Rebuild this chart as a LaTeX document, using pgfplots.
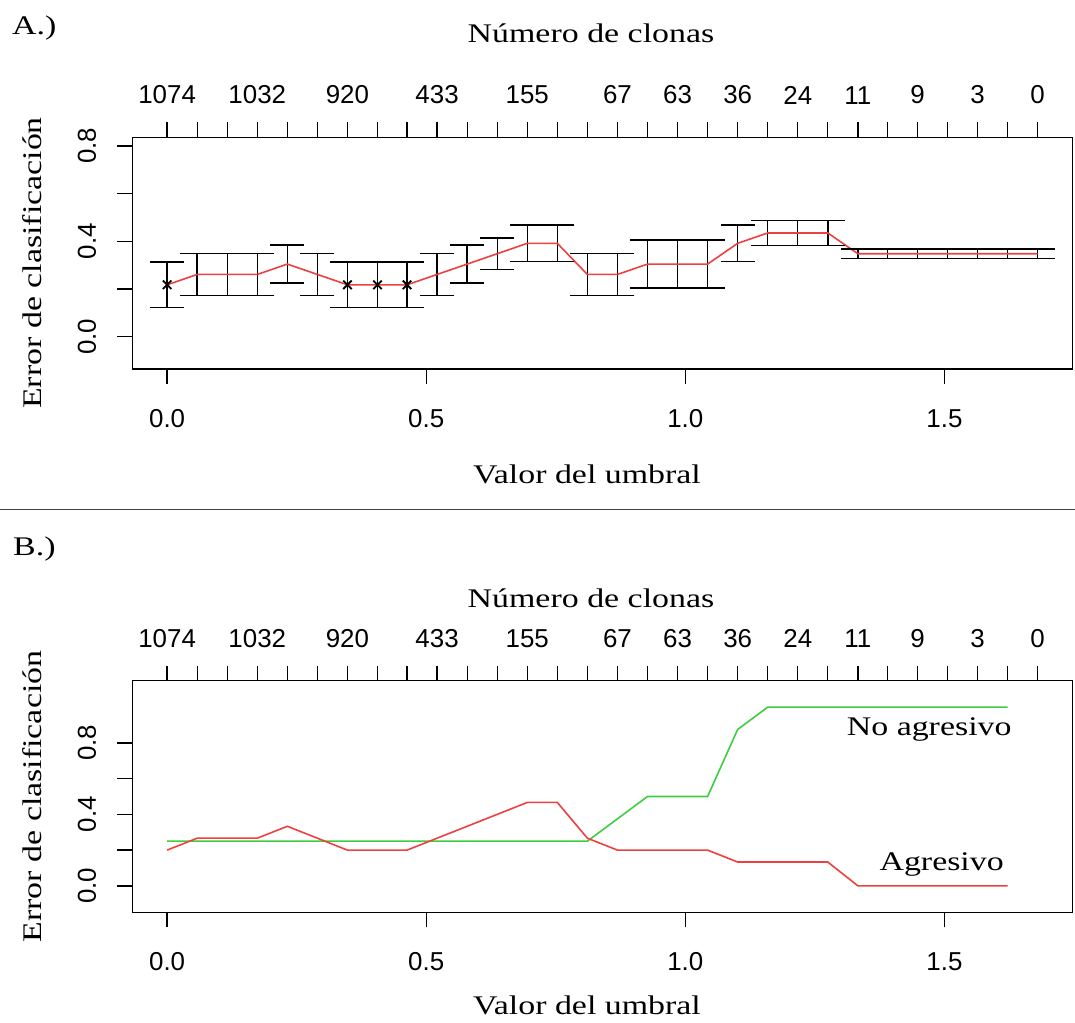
\documentclass[border=0pt]{standalone}
\usepackage{fontspec}
\setmainfont{Liberation Serif}[FakeStretch=1.26]
\newfontfamily\ticksf{Liberation Sans}
\usepackage{pgfplots}
\pgfplotsset{compat=1.18}
\usepackage{pgfplotstable}

\definecolor{errred}{RGB}{238,64,64}
\definecolor{nagreen}{RGB}{64,204,64}

% Panel A: threshold, overall CV error, standard error
\pgfplotstableread{
t e se
0.000 0.2174 0.095
0.058 0.2609 0.089
0.116 0.2609 0.089
0.174 0.2609 0.089
0.232 0.3043 0.080
0.290 0.2609 0.089
0.348 0.2174 0.095
0.406 0.2174 0.095
0.463 0.2174 0.095
0.521 0.2609 0.089
0.579 0.3043 0.080
0.637 0.3478 0.066
0.695 0.3913 0.077
0.753 0.3913 0.077
0.811 0.2609 0.089
0.869 0.2609 0.089
0.927 0.3043 0.101
0.985 0.3043 0.101
1.043 0.3043 0.101
1.101 0.3913 0.077
1.159 0.4348 0.053
1.217 0.4348 0.053
1.275 0.4348 0.053
1.333 0.3478 0.020
1.390 0.3478 0.020
1.448 0.3478 0.020
1.506 0.3478 0.020
1.564 0.3478 0.020
1.622 0.3478 0.020
1.680 0.3478 0.020
}\tblA

% Panel B: threshold, error Agresivo, error No agresivo
\pgfplotstableread{
t ag na
0.000 0.2000 0.250
0.058 0.2667 0.250
0.116 0.2667 0.250
0.174 0.2667 0.250
0.232 0.3333 0.250
0.290 0.2667 0.250
0.348 0.2000 0.250
0.406 0.2000 0.250
0.463 0.2000 0.250
0.521 0.2667 0.250
0.579 0.3333 0.250
0.637 0.4000 0.250
0.695 0.4667 0.250
0.753 0.4667 0.250
0.811 0.2667 0.250
0.869 0.2000 0.375
0.927 0.2000 0.500
0.985 0.2000 0.500
1.043 0.2000 0.500
1.101 0.1333 0.875
1.159 0.1333 1.000
1.217 0.1333 1.000
1.275 0.1333 1.000
1.333 0.0000 1.000
1.390 0.0000 1.000
1.448 0.0000 1.000
1.506 0.0000 1.000
1.564 0.0000 1.000
1.622 0.0000 1.000
}\tblB

\pgfplotsset{
  panel/.style={
    scale only axis, width=940.2bp,
    xmin=-0.0672, xmax=1.7472,
    axis line style={line width=1.3bp, black},
    every tick/.style={line width=1.3bp, black},
    major tick length=15bp, tick align=outside,
    tick label style={font=\ticksf\fontsize{26}{30}\selectfont, inner sep=0pt},
    /pgf/number format/assume math mode=true,
  },
  mainpanel/.style={panel,
    xtick={0,0.5,1,1.5}, xticklabels={0.0,0.5,1.0,1.5},
    xtick pos=left, ytick pos=left,
    xticklabel style={yshift=-25bp},
    ytick={0,0.2,0.4,0.6,0.8}, yticklabels={0.0,,0.4,,0.8},
    yticklabel style={rotate=90, anchor=south, yshift=21bp},
  },
  toppanel/.style={panel,
    axis x line*=top, axis y line=none,
    xticklabel style={yshift=18bp},
    xtick={0.000,0.058,0.116,0.174,0.232,0.290,0.348,0.406,0.463,0.521,0.579,0.637,0.695,0.753,0.811,0.869,0.927,0.985,1.043,1.101,1.159,1.217,1.275,1.333,1.390,1.448,1.506,1.564,1.622,1.680},
    xticklabels={1074,,,1032,,,920,,,433,,,155,,,67,,63,,36,,24,,11,,9,,3,,0},
  },
}

\begin{document}
\begin{tikzpicture}
\useasboundingbox (0,0) rectangle (1075bp,1023bp);
\fontsize{27}{32}\selectfont

% ---------- Panel A ----------
\begin{axis}[mainpanel, at={(132.3bp,653.9bp)}, anchor=south west,
  height=231.8bp, ymin=-0.136, ymax=0.836]
% vertical error bars
\addplot[draw=none, mark=none, forget plot,
  error bars/.cd, y dir=both, y explicit, error mark=none,
  error bar style={draw=black, solid, line width=1.4bp}]
  table[x=t, y=e, y error=se] {\tblA};
% caps
\addplot[only marks, mark=-, mark size=17bp, mark options={draw=black, line width=1.4bp}, forget plot]
  table[x=t, y expr=\thisrow{e}+\thisrow{se}] {\tblA};
\addplot[only marks, mark=-, mark size=17bp, mark options={draw=black, line width=1.4bp}, forget plot]
  table[x=t, y expr=\thisrow{e}-\thisrow{se}] {\tblA};
\addplot[errred, line width=1.6bp, mark=none] table[x=t, y=e] {\tblA};
\addplot[only marks, mark=x, mark size=6bp, mark options={draw=black, line width=1.8bp}]
  coordinates {(0,0.2174) (0.348,0.2174) (0.406,0.2174) (0.463,0.2174)};
\end{axis}
\begin{axis}[toppanel, at={(132.3bp,653.9bp)}, anchor=south west,
  height=231.8bp, ymin=-0.136, ymax=0.836]
\end{axis}

\node[anchor=base west, inner sep=0] at (12bp,988bp) {A.)};
\node[anchor=base, inner sep=0] at (591bp,980bp) {Número de clonas};
\node[anchor=base, inner sep=0] at (587bp,539bp) {Valor del umbral};
\node[rotate=90, anchor=base, inner sep=0] at (41bp,760bp) {Error de clasificación};

\draw[line width=1.5bp, black!75] (0,513.7bp) -- (1075bp,513.7bp);

% ---------- Panel B ----------
\begin{axis}[mainpanel, at={(132.3bp,110.7bp)}, anchor=south west,
  height=231.6bp, ymin=-0.148, ymax=1.148]
\addplot[nagreen, line width=1.6bp, mark=none] table[x=t, y=na] {\tblB};
\addplot[errred, line width=1.6bp, mark=none] table[x=t, y=ag] {\tblB};
\node[anchor=base east, inner sep=0, font=\fontsize{27}{32}\selectfont] at (axis cs:1.63,0.839) {No agresivo};
\node[anchor=base east, inner sep=0, font=\fontsize{27}{32}\selectfont] at (axis cs:1.615,0.085) {Agresivo};
\end{axis}
\begin{axis}[toppanel, at={(132.3bp,110.7bp)}, anchor=south west,
  height=231.6bp, ymin=-0.148, ymax=1.148]
\end{axis}

\node[anchor=base west, inner sep=0] at (13bp,467bp) {B.)};
\node[anchor=base, inner sep=0] at (591bp,415bp) {Número de clonas};
\node[anchor=base, inner sep=0] at (587bp,9bp) {Valor del umbral};
\node[rotate=90, anchor=base, inner sep=0] at (41bp,226.5bp) {Error de clasificación};
\end{tikzpicture}
\end{document}
